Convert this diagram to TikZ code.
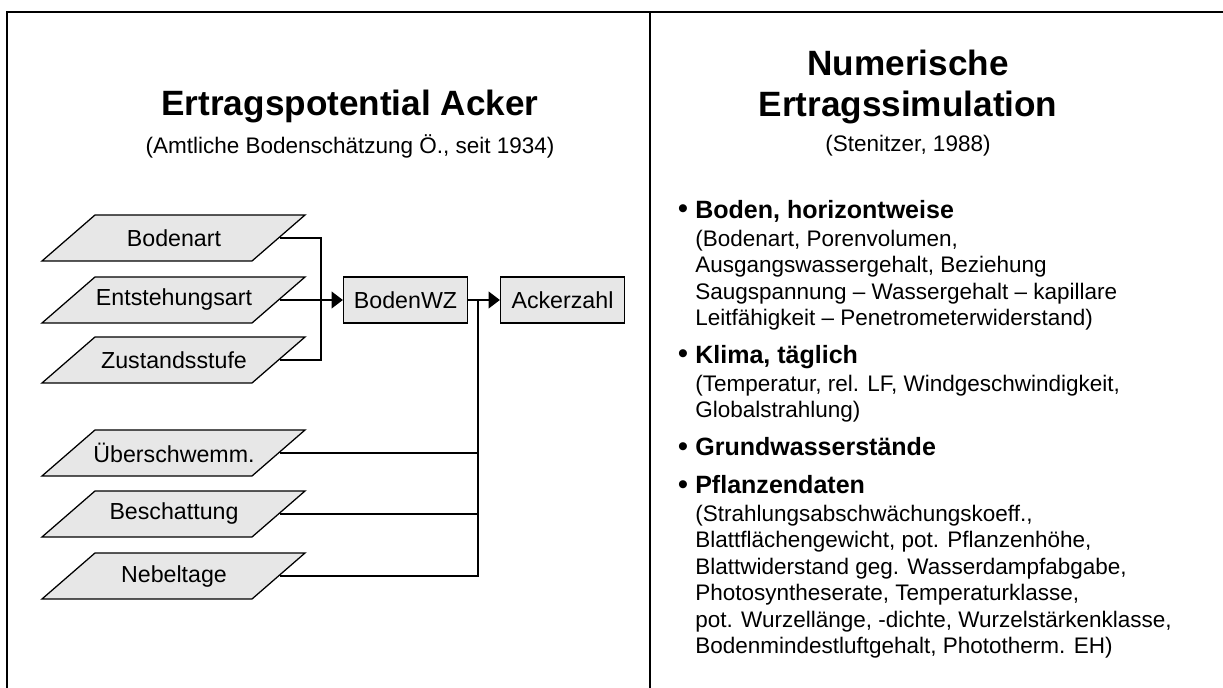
\documentclass[tikz,border=0pt]{standalone}
\usepackage{fontspec}
\setmainfont{Liberation Sans}
\usepackage{tikz}
\usetikzlibrary{arrows.meta, positioning, calc}
\definecolor{boxgray}{RGB}{231,231,231}

\begin{document}
\begin{tikzpicture}[x=0.025cm, y=-0.025cm,
    frame/.style={line width=1.3pt},
    wire/.style={line width=0.8pt},
    flow/.style={wire, -{Triangle[length=8pt, width=12pt]}},
    inbox/.style={line width=0.9pt, fill=boxgray},
    intext/.style={minimum width=5.3cm, minimum height=1.15cm, inner sep=0pt,
                   font=\fontsize{16.5}{19}\selectfont},
    outbox/.style={draw, line width=0.9pt, fill=boxgray, minimum width=3.1cm,
                   minimum height=1.15cm, inner sep=0pt, font=\fontsize{16.5}{19}\selectfont},
    bigtitle/.style={align=center, font=\fontsize{25}{28.5}\selectfont\bfseries},
    subtitle/.style={font=\fontsize{16}{19}\selectfont},
    item/.style={anchor=north west, align=left, inner sep=0pt,
                 font=\fontsize{16}{18.8}\selectfont},
    bull/.style={anchor=base, inner sep=0pt, font=\fontsize{21}{21}\selectfont}]
  \useasboundingbox (0,0) rectangle (1223,688);

  % frame and divider
  \draw[frame] (7,688) -- (7,12) -- (1223,12);
  \draw[frame] (650,12) -- (650,688);

  % left column
  \node[bigtitle] (ltitle) at (350,106) {Ertragspotential Acker};
  \node[subtitle] (lsub) at (350,146) {(Amtliche Bodenschätzung Ö., seit 1934)};

  % input parallelograms
  \foreach \nm/\yy/\txt in {bart/238/Bodenart, enta/300/Entstehungsart, zust/360/Zustandsstufe,
                            ueber/453/Überschwemm., besch/514/Beschattung, nebel/576/Nebeltage}{
    \filldraw[inbox] (95,\yy-23) -- (305,\yy-23) -- (252,\yy+23) -- (42,\yy+23) -- cycle;
    \node[intext] (\nm) at (174,\yy) {\txt};
  }

  \node[outbox] (wz) at (405.5,300) {BodenWZ};
  \node[outbox] (az) at (562.5,300) {Ackerzahl};

  \coordinate (j1) at (321,300);
  \coordinate (j2) at (478,300);
  \draw[wire] (bart.east) -| (j1) |- (zust.east);
  \draw[flow] (enta.east) -- (wz.west);
  \draw[flow] (wz.east) -- (az.west);
  \foreach \nm in {ueber, besch, nebel}{
    \draw[wire] (\nm.east) -| (j2);
  }

  % right column
  \node[bigtitle] (rtitle) at (908,87) {Numerische\\Ertragssimulation};
  \node[subtitle] (rsub) at (908,146) {(Stenitzer, 1988)};

  \foreach \nm/\yy in {b1/219, b2/364, b3/456, b4/494}{
    \node[bull] (\nm) at (683,\yy) {\textbullet};
  }
  \node[item] (i1) at (695,200) {{\fontsize{17.8}{20}\selectfont\bfseries Boden, horizontweise}\\[1pt]
    (Bodenart, Porenvolumen,\\
    Ausgangswassergehalt, Beziehung\\
    Saugspannung – Wassergehalt – kapillare\\
    Leitfähigkeit – Penetrometerwiderstand)};
  \node[item] (i2) at (695,345) {{\fontsize{17.8}{20}\selectfont\bfseries Klima, täglich}\\[1pt]
    (Temperatur, rel. LF, Windgeschwindigkeit,\\
    Globalstrahlung)};
  \node[item] (i3) at (695,437) {{\fontsize{17.8}{20}\selectfont\bfseries Grundwasserstände}};
  \node[item] (i4) at (695,475) {{\fontsize{17.8}{20}\selectfont\bfseries Pflanzendaten}\\[1pt]
    (Strahlungsabschwächungskoeff.,\\
    Blattflächengewicht, pot. Pflanzenhöhe,\\
    Blattwiderstand geg. Wasserdampfabgabe,\\
    Photosyntheserate, Temperaturklasse,\\
    pot. Wurzellänge, -dichte, Wurzelstärkenklasse,\\
    Bodenmindestluftgehalt, Phototherm. EH)};
\end{tikzpicture}
\end{document}
